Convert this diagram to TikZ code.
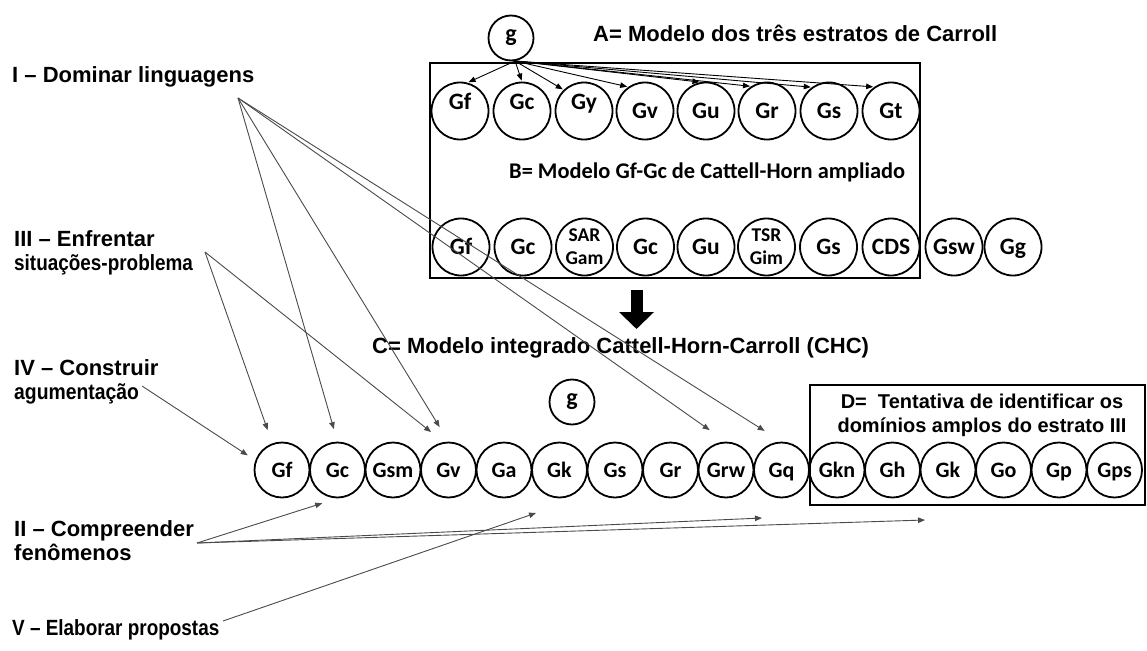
\documentclass[tikz,border=0pt]{standalone}
\usepackage{fontspec}
\setmainfont{Liberation Sans}
\newfontfamily\calfont{Carlito}
\usetikzlibrary{arrows.meta,calc}
\definecolor{lc}{HTML}{4A4A4A}
\begin{document}
\begin{tikzpicture}[x=1pt,y=-1pt,
  lbl/.style={anchor=base west, inner sep=0pt, font=\bfseries\fontsize{22}{24}\selectfont},
  dlbl/.style={anchor=base, inner sep=0pt, font=\bfseries\fontsize{20}{24}\selectfont},
  btitle/.style={anchor=base west, inner sep=0pt, font=\calfont\bfseries\fontsize{22.4}{24}\selectfont},
  circA/.style={draw, circle, line width=1.8pt, inner sep=0pt, minimum size=57pt,
    text height=15pt, text depth=0pt, font=\calfont\bfseries\fontsize{23.5}{24}\selectfont},
  raised/.style={text depth=18pt},
  circT/.style={draw, circle, line width=1.8pt, inner sep=0pt, minimum size=57pt,
    align=center, font=\calfont\bfseries\fontsize{19.5}{23}\selectfont},
  circC/.style={draw, circle, line width=1.8pt, inner sep=0pt, minimum size=55pt,
    text height=14pt, text depth=0pt, font=\calfont\bfseries\fontsize{22}{24}\selectfont},
  circG/.style={draw, circle, line width=1.8pt, inner sep=0pt, minimum size=45pt,
    font=\calfont\bfseries\fontsize{24}{24}\selectfont},
  frame/.style={draw, line width=1.8pt, inner sep=0pt},
  garr/.style={lc, line width=0.9pt, -{Triangle[length=7pt,width=5.5pt]}},
  karr/.style={black, line width=0.9pt, -{Triangle[length=7pt,width=5.5pt]}},
  bigarr/.style={black, line width=12pt, -{Triangle[length=17pt,width=34pt]}}
]
\useasboundingbox (0,0) rectangle (1147,650);

% boxes
\node[frame, minimum width=490pt, minimum height=215pt] (boxAB) at (675,170.5) {};
\node[frame, minimum width=335pt, minimum height=120pt] (boxD) at (977.5,445) {};

% titles
\node[lbl] (tA) at (593,42) {A= Modelo dos três estratos de Carroll};
\node[btitle] (tB) at (509,178) {B= Modelo Gf-Gc de Cattell-Horn ampliado};
\node[lbl] (tC) at (372,353) {C= Modelo integrado Cattell-Horn-Carroll (CHC)};
\node[dlbl] (tD1) at (982,408) {D=\ \ Tentativa de identificar os};
\node[dlbl] (tD2) at (982,432) {domínios amplos do estrato III};

% left labels
\node[lbl] (lI) at (12,83) {I – Dominar linguagens};
\node[lbl] (lIIIa) at (14,246) {III – Enfrentar};
\node[lbl] (lIIIb) at (14,270) {\scalebox{0.86}[1]{situações-problema}};
\node[lbl] (lIVa) at (14,375) {IV – Construir};
\node[lbl] (lIVb) at (14,399) {\scalebox{0.88}[1]{agumentação}};
\node[lbl] (lIIa) at (14,536) {II – Compreender};
\node[lbl] (lIIb) at (14,560) {fenômenos};
\node[lbl] (lV) at (12,635) {\scalebox{0.86}[1]{V – Elaborar propostas}};

% top g and row A
\node[circG] (g1) at (511,38) {g};
\node[circA, raised] (A1) at (460,111) {Gf};
\node[circA, raised] (A2) at (522,111) {Gc};
\node[circA, raised] (A3) at (584,111) {Gy};
\node[circA] (A4) at (645,111) {Gv};
\node[circA] (A5) at (706,111) {Gu};
\node[circA] (A6) at (767,111) {Gr};
\node[circA] (A7) at (829,111) {Gs};
\node[circA] (A8) at (891,111) {Gt};

% row B
\node[circA] (B1) at (461,247) {Gf};
\node[circA] (B2) at (523,247) {Gc};
\node[circT] (B3) at (584.5,247) {SAR\\Gam};
\node[circA] (B4) at (645.5,247) {Gc};
\node[circA] (B5) at (706,247) {Gu};
\node[circT] (B6) at (766.5,247) {TSR\\Gim};
\node[circA] (B7) at (828.5,247) {Gs};
\node[circA] (B8) at (891,247) {CDS};
\node[circA] (B9) at (954,247) {Gsw};
\node[circA] (B10) at (1013,247) {Gg};

% middle g and row C
\node[circG] (g2) at (572,402) {g};
\foreach \lab [count=\i from 0] in {Gf,Gc,Gsm,Gv,Ga,Gk,Gs,Gr,Grw,Gq,Gkn,Gh,Gk,Go,Gp,Gps}{
  \pgfmathtruncatemacro{\n}{\i+1}
  \node[circC] (C\n) at ({282+55.5*\i},470) {\lab};
}

% arrows from g
\foreach \t/\a in {A1/75,A2/90,A3/134,A4/125,A5/101,A6/123,A7/126,A8/125}{
  \draw[karr, shorten >=1pt] (g1.-80) -- (\t.\a);
}

% big arrow
\coordinate (bigS) at (636.5,290);
\coordinate (bigE) at (636.5,329);
\draw[bigarr] (bigS) -- (bigE);

% source points and free arrow ends
\coordinate (sI) at (238,98);
\coordinate (sIII) at (205,252);
\coordinate (sIV) at (142,386);
\coordinate (sII) at (197,543);
\coordinate (sV) at (223,621);
\coordinate (tQ) at (762,518);
\coordinate (tK) at (925,520);
\coordinate (tV) at (536,513);

\draw[garr, shorten >=13pt] (sI) -- (C2.north);
\draw[garr, shorten >=17pt] (sI) -- (C4.north);
\draw[garr, shorten >=20pt] (sI) -- (C9.north);
\draw[garr, shorten >=20pt] (sI) -- (C10.north);
\draw[garr, shorten >=14pt] (sIII) -- (C1.110);
\draw[garr, shorten >=16pt] (sIII) -- (C4.100);
\draw[garr, shorten >=9pt] (sIV) -- (C1.160);
\draw[garr, shorten >=16pt] (sII) -- (C2.south);
\draw[garr] (sII) -- (tQ);
\draw[garr] (sII) -- (tK);
\draw[garr] (sV) -- (tV);
\end{tikzpicture}
\end{document}
